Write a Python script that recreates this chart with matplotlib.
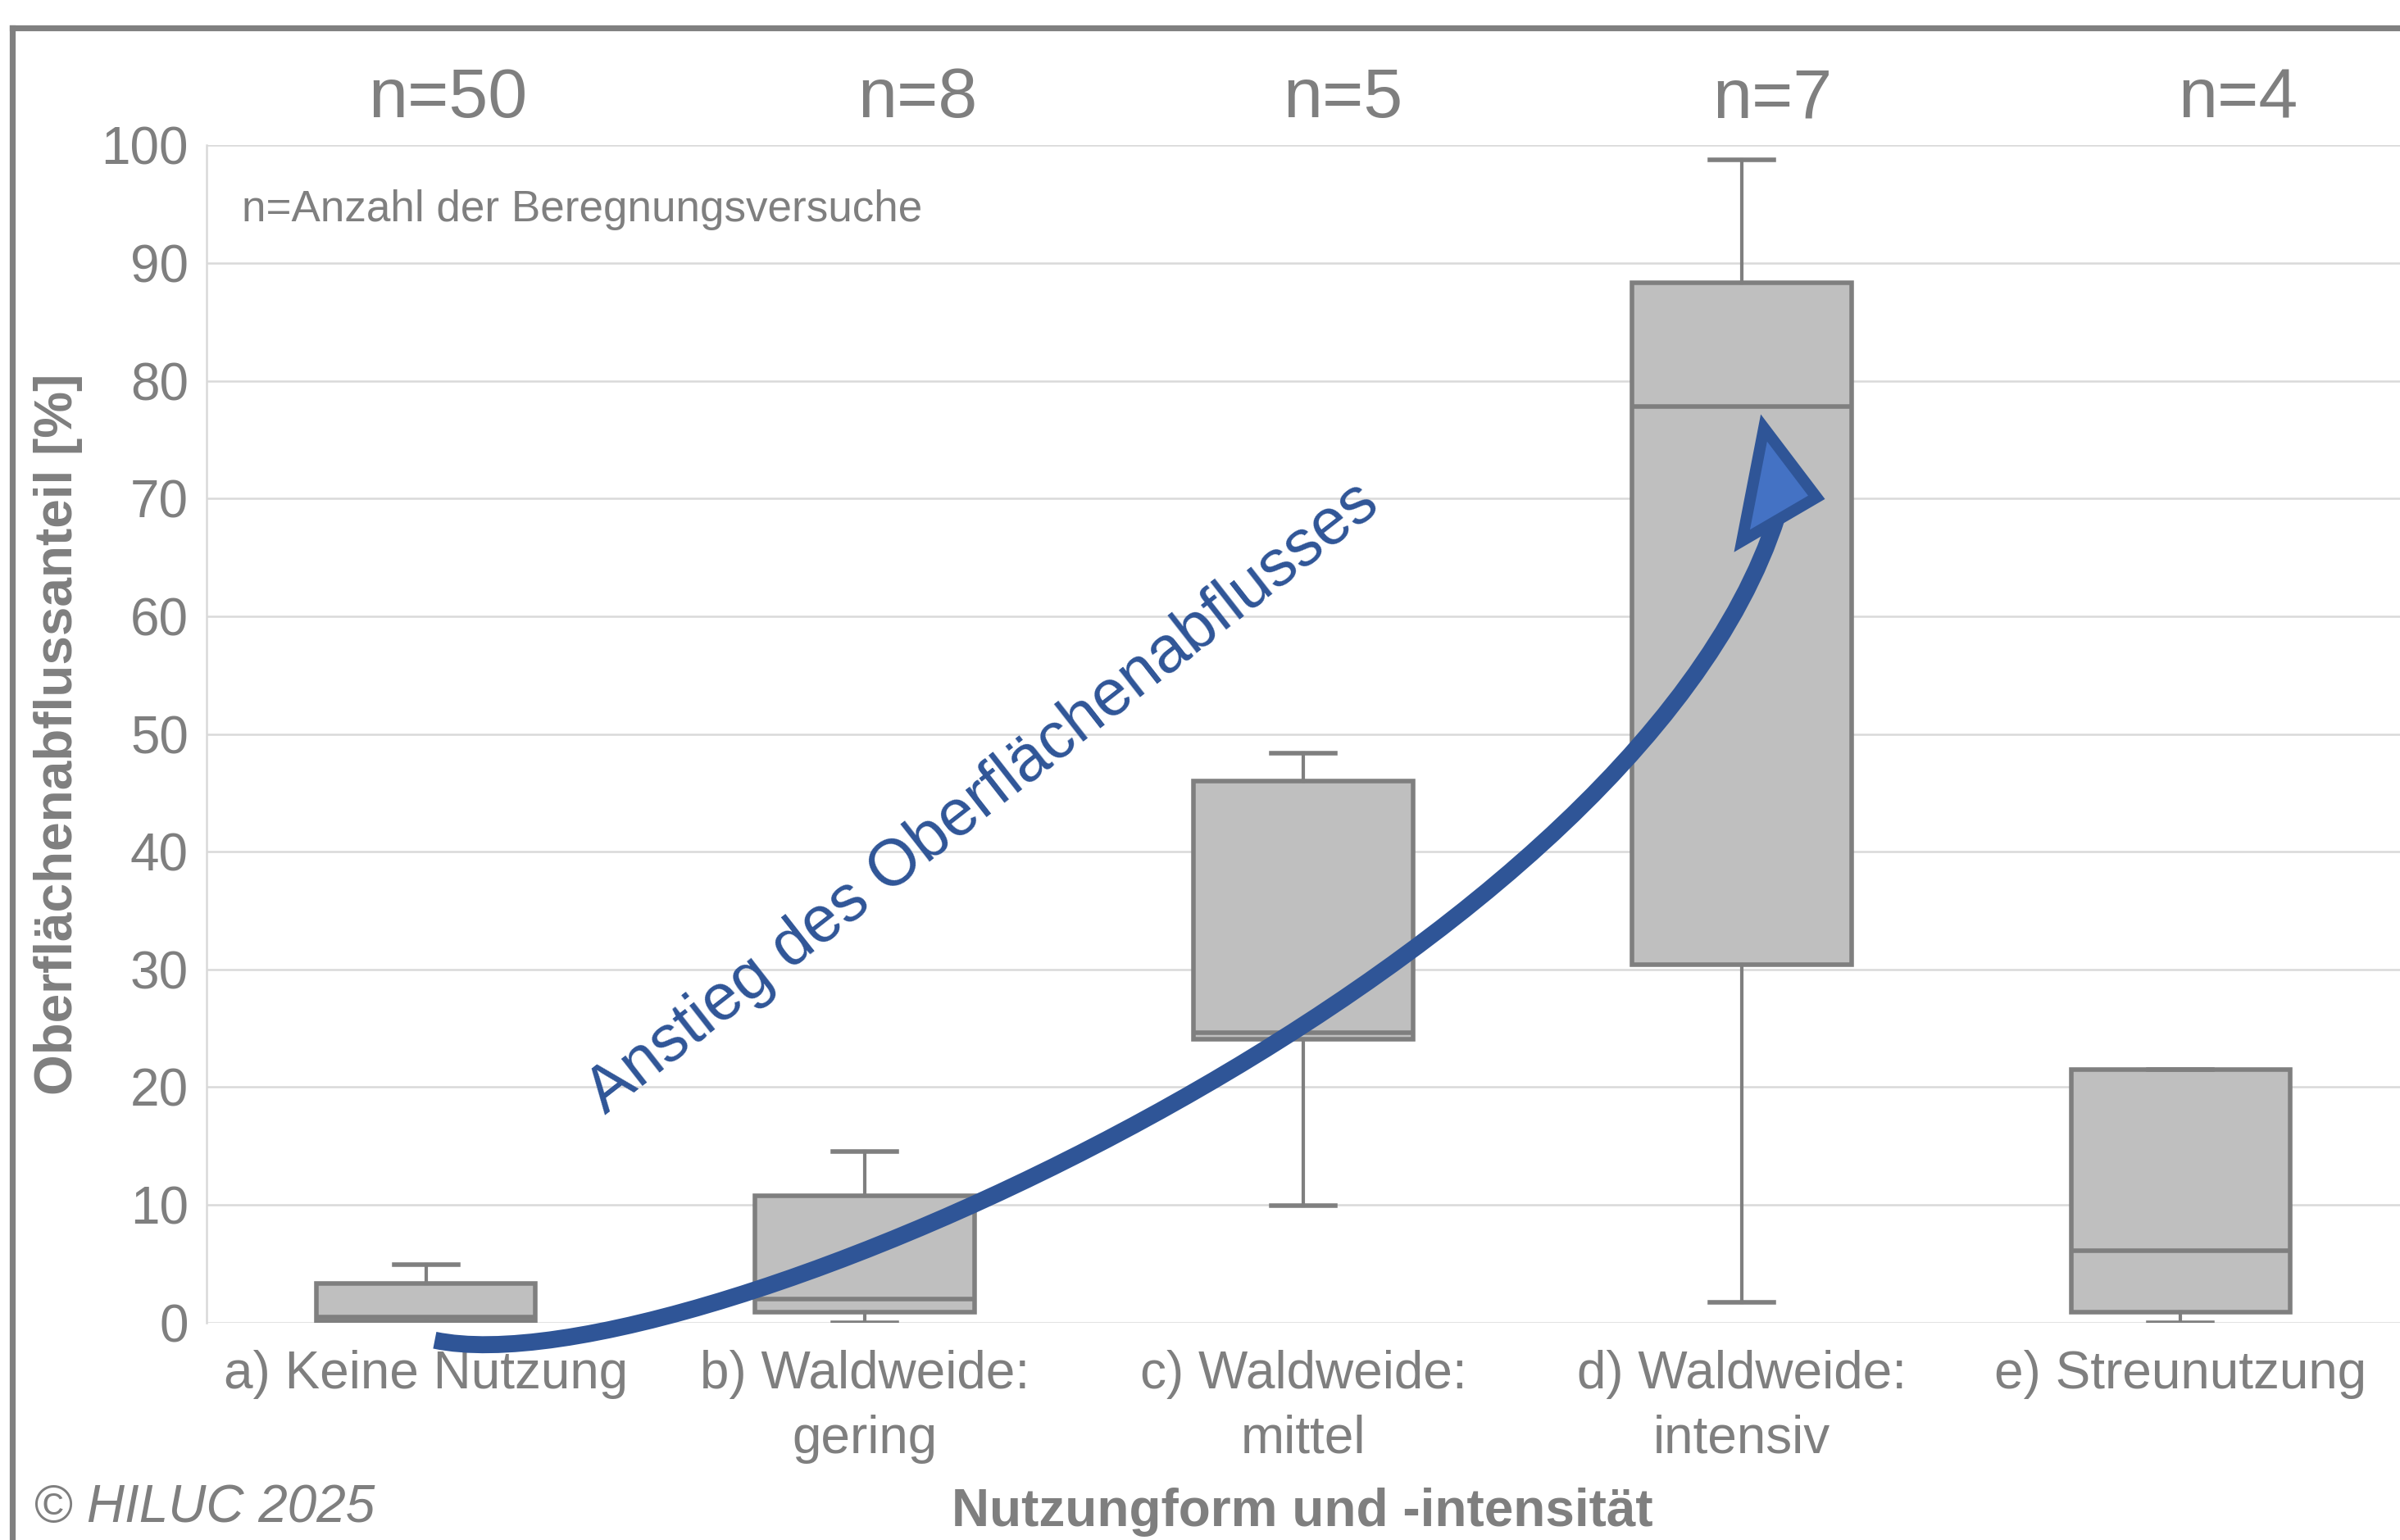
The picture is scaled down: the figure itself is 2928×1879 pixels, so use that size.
#!/usr/bin/env python3
"""Boxplot: Oberflächenabflussanteil nach Nutzungsform und -intensität."""

import matplotlib
matplotlib.use('Agg')
import matplotlib.pyplot as plt
from matplotlib.lines import Line2D
from matplotlib.patches import PathPatch, Polygon
from matplotlib.path import Path

plt.rcParams['font.family'] = ['Liberation Sans', 'DejaVu Sans']

# --- data ---
categories = ['a) Keine Nutzung', 'b) Waldweide:\ngering', 'c) Waldweide:\nmittel',
              'd) Waldweide:\nintensiv', 'e) Streunutzung']
n_counts = [50, 8, 5, 7, 4]
whisker_low = [0.0, 0.0, 9.9, 1.7, 0.0]
q1 = [0.1, 0.9, 24.1, 30.4, 0.9]
median = [0.5, 2.0, 24.6, 77.8, 6.1]
q3 = [3.3, 10.8, 46.0, 88.3, 21.5]
whisker_high = [4.9, 14.5, 48.4, 98.8, 21.5]
yticks = list(range(0, 101, 10))

# horizontal offsets of the n= labels relative to the box centres
n_offsets = [0.05, 0.12, 0.09, 0.07, 0.13]

GRAY = '#7F7F7F'
BOX = '#BFBFBF'
GRID = '#D9D9D9'
BLUE = '#2F5597'
LIGHTBLUE = '#4472C4'

fig = plt.figure(figsize=(14.64, 9.395), dpi=200)
ax = fig.add_axes([0.0861, 0.1412, 0.9139, 0.7644])

stats = []
for i in range(len(categories)):
    stats.append(dict(whislo=whisker_low[i], q1=q1[i], med=median[i],
                      q3=q3[i], whishi=whisker_high[i], fliers=[]))

ax.bxp(stats, positions=range(len(categories)), widths=0.5, capwidths=0.146,
       patch_artist=True, showfliers=False,
       boxprops=dict(facecolor=BOX, edgecolor=GRAY, linewidth=2.0),
       medianprops=dict(color=GRAY, linewidth=2.0),
       whiskerprops=dict(color=GRAY, linewidth=1.5),
       capprops=dict(color=GRAY, linewidth=2.0), zorder=3)

ax.set_xlim(-0.5, len(categories) - 0.5)
ax.set_ylim(0, 100)
ax.set_yticks(yticks)
ax.set_xticks(range(len(categories)))
ax.set_xticklabels(categories, linespacing=1.4)
ax.tick_params(axis='both', length=0, labelsize=23, colors=GRAY)
ax.tick_params(axis='x', pad=12)
ax.tick_params(axis='y', pad=8)
ax.yaxis.grid(True, color=GRID, linewidth=0.9)
ax.set_axisbelow(True)
for side in ['top', 'right', 'bottom']:
    ax.spines[side].set_visible(False)
ax.spines['left'].set_color(GRID)
ax.spines['left'].set_linewidth(0.9)

# n= labels above each box
for i, n in enumerate(n_counts):
    ax.text(i + n_offsets[i], 103.9, f'n={n}', ha='center', va='center',
            fontsize=31, color=GRAY, clip_on=False)

ax.text(0.016, 0.945, 'n=Anzahl der Beregnungsversuche', transform=ax.transAxes,
        ha='left', va='center', fontsize=19.1, color=GRAY)

# blue trend arrow
curve = Path([(0.02, -1.5), (0.6, -6.0), (2.75, 30.0), (3.08, 68.5)],
             [Path.MOVETO, Path.CURVE4, Path.CURVE4, Path.CURVE4])
ax.add_patch(PathPatch(curve, facecolor='none', edgecolor=BLUE, linewidth=7.5,
                       capstyle='butt', zorder=5, clip_on=False))
ax.add_patch(Polygon([(3.05, 76.0), (3.0, 66.4), (3.17, 70.1)], closed=True,
                     facecolor=LIGHTBLUE, edgecolor=BLUE, linewidth=5,
                     joinstyle='miter', zorder=6))
ax.text(1.27, 44.5, 'Anstieg des Oberflächenabflusses', rotation=38,
        rotation_mode='anchor', ha='center', va='center', fontsize=28.5,
        color=BLUE, zorder=6)

# axis titles and credit
fig.text(0.0242, 0.523, 'Oberflächenabflussanteil [%]', rotation=90, ha='center',
         va='center', fontsize=23, fontweight='bold', color=GRAY)
fig.text(0.5427, 0.018, 'Nutzungform und -intensität', ha='center', va='center',
         fontsize=23, fontweight='bold', color=GRAY)
fig.text(0.014, 0.021, '© HILUC 2025', ha='left', va='center', fontsize=23,
         style='italic', color=GRAY)

# outer frame (left and top edges)
fig.add_artist(Line2D([0.0051, 0.0051], [0.0, 0.982], color='#808080', linewidth=2.6,
                      solid_capstyle='projecting'))
fig.add_artist(Line2D([0.0051, 1.0], [0.982, 0.982], color='#808080', linewidth=2.6,
                      solid_capstyle='projecting'))

fig.savefig('out.png', dpi=200, facecolor='white')
